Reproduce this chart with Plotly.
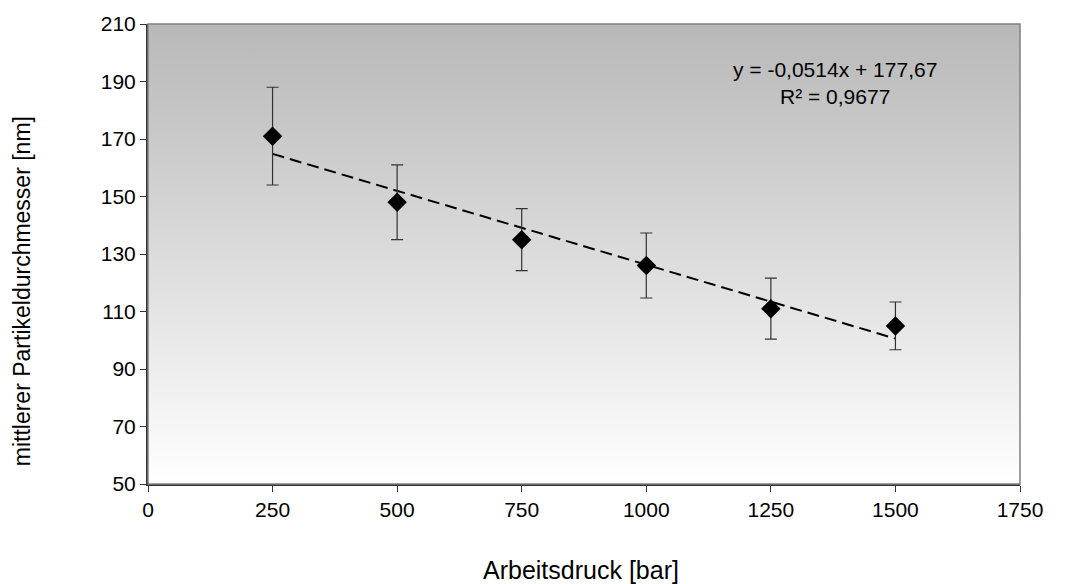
import plotly.graph_objects as go

# Measured particle diameters vs. working pressure
pressure_bar = [250, 500, 750, 1000, 1250, 1500]
diameter_nm = [171, 148, 135, 126, 111, 105]
diameter_err = [17, 13, 10.8, 11.3, 10.6, 8.3]

# Linear trend line parameters (as printed on the chart)
slope = -0.0514
intercept = 177.67
r_squared = 0.9677

x_range = [0, 1750]
y_range = [50, 210]
x_ticks = [0, 250, 500, 750, 1000, 1250, 1500, 1750]
y_ticks = [50, 70, 90, 110, 130, 150, 170, 190, 210]

FONT = "Liberation Sans, Arial, sans-serif"

fig = go.Figure()

# Plot-area background: vertical grey-to-white gradient
fig.add_trace(go.Scatter(
    x=[x_range[0], x_range[1], x_range[1], x_range[0], x_range[0]],
    y=[y_range[0], y_range[0], y_range[1], y_range[1], y_range[0]],
    mode="lines", line=dict(width=0), fill="toself",
    fillgradient=dict(type="vertical",
                      colorscale=[[0, "#ffffff"], [1, "#b8b8b8"]]),
    hoverinfo="skip", showlegend=False,
))

# Trend line
x_fit = [pressure_bar[0], pressure_bar[-1]]
y_fit = [slope * x + intercept for x in x_fit]
fig.add_trace(go.Scatter(
    x=x_fit, y=y_fit, mode="lines",
    line=dict(color="#000000", width=2, dash="12px,6px"),
    hoverinfo="skip", showlegend=False,
))

# Data points with error bars
fig.add_trace(go.Scatter(
    x=pressure_bar, y=diameter_nm, mode="markers",
    marker=dict(symbol="diamond", size=15, color="#000000"),
    error_y=dict(type="data", array=diameter_err, visible=True,
                 color="#333333", thickness=1.2, width=6),
    showlegend=False,
))

def de(v, nd):
    return f"{v:.{nd}f}".replace(".", ",")

eq_text = (f"y = {de(slope, 4)}x + {de(intercept, 2)}<br>"
           f"R² = {de(r_squared, 4)}")
fig.add_annotation(
    x=1378, y=189.6, xref="x", yref="y", text=eq_text, showarrow=False,
    font=dict(family=FONT, size=21, color="#000000"), align="center",
    xanchor="center", yanchor="middle",
)

# Axis titles
fig.add_annotation(
    x=0.497, y=-0.186, xref="paper", yref="paper",
    text="Arbeitsdruck [bar]", showarrow=False,
    font=dict(family=FONT, size=25, color="#000000"),
    xanchor="center", yanchor="middle",
)
fig.add_annotation(
    x=-0.1445, y=0.419, xref="paper", yref="paper",
    text="mittlerer Partikeldurchmesser [nm]", showarrow=False, textangle=-90,
    font=dict(family=FONT, size=23, color="#000000"),
    xanchor="center", yanchor="middle",
)

# Plot-area frame (grey), axes drawn darker on top
fig.add_shape(type="rect", xref="paper", yref="paper", x0=0, y0=0, x1=1, y1=1,
              line=dict(color="#808080", width=1.5), layer="above")

fig.update_xaxes(
    range=x_range, tickvals=x_ticks, ticks="outside", ticklen=6,
    tickcolor="#333333", showgrid=False, zeroline=False,
    showline=True, linecolor="#333333", linewidth=2,
    tickfont=dict(family=FONT, size=21, color="#000000"),
)
fig.update_yaxes(
    range=y_range, tickvals=y_ticks, ticks="outside", ticklen=6,
    tickcolor="#333333", showgrid=False, zeroline=False,
    showline=True, linecolor="#333333", linewidth=2,
    tickfont=dict(family=FONT, size=21, color="#000000"),
)

fig.update_layout(
    width=1080, height=584,
    margin=dict(l=148, r=60, t=21, b=100),
    paper_bgcolor="#ffffff", plot_bgcolor="#ffffff",
    font=dict(family=FONT),
)

fig.write_html("out.html")
